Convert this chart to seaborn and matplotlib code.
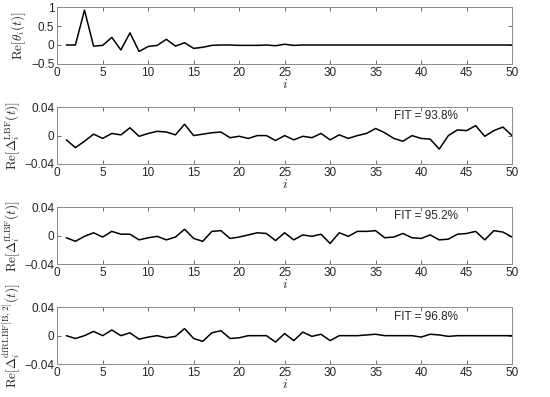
import numpy as np
import pandas as pd
import seaborn as sns
import matplotlib.pyplot as plt

# sample index
idx = list(range(1, 51))

# Re[theta_i(t)]
theta = [0, 0, 0.92, -0.03, -0.01, 0.20, -0.13, 0.32, -0.17, -0.04,
         -0.01, 0.15, -0.03, 0.06, -0.09, -0.06, -0.01, 0.0, 0.0, -0.01,
         -0.01, -0.01, 0.0, -0.02, 0.02, -0.01, 0, 0, 0, 0,
         0, 0, 0, 0, 0, 0, 0, 0, 0, 0,
         0, 0, 0, 0, 0, 0, 0, 0, 0, 0]

# estimation errors
err_lbf = [-0.006, -0.017, -0.008, 0.002, -0.004, 0.003, 0.001, 0.011, -0.001, 0.003,
           0.006, 0.005, 0.001, 0.016, 0.0, 0.002, 0.004, 0.005, -0.003, -0.001,
           -0.004, 0.0, 0.0, -0.007, 0.0, -0.006, -0.001, -0.003, 0.003, -0.006,
           0.001, -0.004, 0.0, 0.003, 0.010, 0.004, -0.004, -0.008, 0.0, -0.004,
           -0.005, -0.019, 0.0, 0.008, 0.007, 0.014, -0.001, 0.007, 0.012, 0.0]

err_flbf = [-0.003, -0.008, -0.001, 0.004, -0.002, 0.006, 0.002, 0.002, -0.006, -0.003,
            -0.001, -0.006, -0.002, 0.009, -0.004, -0.008, 0.006, 0.007, -0.004, -0.002,
            0.001, 0.004, 0.003, -0.007, 0.004, -0.006, 0.001, -0.001, 0.002, -0.011,
            0.004, -0.001, 0.006, 0.006, 0.007, -0.003, -0.002, 0.003, -0.003, -0.004,
            0.001, -0.006, -0.005, 0.002, 0.003, 0.006, -0.006, 0.007, 0.005, -0.002]

err_dfrlbf = [0.0, -0.004, 0.0, 0.006, 0.0, 0.008, 0.0, 0.004, -0.005, -0.002,
              0.0, -0.003, -0.001, 0.010, -0.004, -0.008, 0.004, 0.007, -0.004, -0.003,
              0.0, 0.0, 0.0, -0.009, 0.003, -0.007, 0.005, -0.001, 0.002, -0.007,
              0.0, 0.0, 0.0, 0.001, 0.002, 0.0, 0.0, 0.0, 0.0, -0.002,
              0.002, 0.001, -0.001, 0.0, 0.0, 0.0, 0.0, 0.0, 0.0, 0.0]

fits = [None, "FIT = 93.8%", "FIT = 95.2%", "FIT = 96.8%"]
ylabels = [r"$\mathrm{Re}[\theta_i(t)]$",
           r"$\mathrm{Re}[\Delta_i^{\mathrm{LBF}}(t)]$",
           r"$\mathrm{Re}[\Delta_i^{\mathrm{fLBF}}(t)]$",
           r"$\mathrm{Re}[\Delta_i^{\mathrm{dfRLBF[B,2]}}(t)]$"]

sns.set_theme(style="ticks")
plt.rcParams["font.family"] = ["Liberation Sans", "DejaVu Sans"]
plt.rcParams["mathtext.fontset"] = "cm"

fig = plt.figure(figsize=(5.5, 3.97), dpi=100)
bottoms = [0.839, 0.587, 0.335, 0.083]
series = [theta, err_lbf, err_flbf, err_dfrlbf]

for k, (b, ys) in enumerate(zip(bottoms, series)):
    ax = fig.add_axes([0.104, b, 0.827, 0.143])
    df = pd.DataFrame({"i": idx, "v": ys})
    sns.lineplot(data=df, x="i", y="v", ax=ax, color="black", linewidth=1.1)
    ax.set_xlim(0, 50)
    ax.set_xticks(range(0, 51, 5))
    if k == 0:
        ax.set_ylim(-0.5, 1)
        ax.set_yticks([-0.5, 0, 0.5, 1])
        ax.set_yticklabels(["\u22120.5", "0", "0.5", "1"])
    else:
        ax.set_ylim(-0.04, 0.04)
        ax.set_yticks([-0.04, 0, 0.04])
        ax.set_yticklabels(["\u22120.04", "0", "0.04"])
        ax.text(37, 0.027, fits[k], fontsize=8.5, va="center", ha="left")
    ax.tick_params(direction="in", top=True, right=True, labelsize=8.5,
                   length=3, width=0.6, color="#555555", pad=2)
    for s in ax.spines.values():
        s.set_color("#8c8c8c")
        s.set_linewidth(0.7)
    ax.set_xlabel(r"$i$", fontsize=10, labelpad=-1)
    ax.set_ylabel(ylabels[k], fontsize=9.5, labelpad=2)

fig.savefig("out.png", dpi=100)
